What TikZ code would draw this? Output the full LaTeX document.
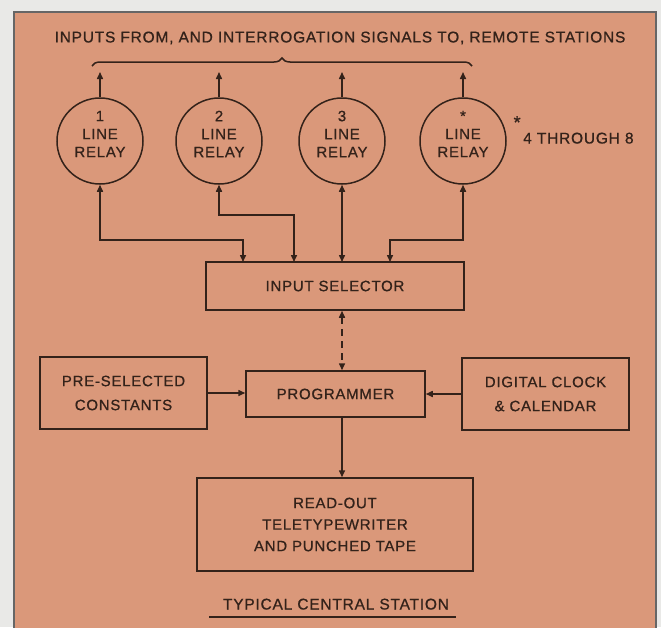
\documentclass[tikz,border=0pt]{standalone}
\usepackage{fontspec}
\setmainfont{Liberation Sans}[LetterSpace=5, FakeBold=0.8]
\usetikzlibrary{arrows.meta, positioning, decorations.pathreplacing, calc}
\definecolor{panel}{HTML}{DA987A}
\definecolor{ink}{HTML}{33221A}
\definecolor{paper}{HTML}{E9E9E7}

\begin{document}
\begin{tikzpicture}[x=1pt, y=-1pt,
  inkline/.style={draw=ink, line width=1.5pt},
  tip/.style={-{Triangle[length=7pt,width=6pt]}},
  twoway/.style={{Triangle[length=7pt,width=6pt]}-{Triangle[length=7pt,width=6pt]}},
  relay/.style={circle, inkline, minimum size=86pt, inner sep=0pt, align=center,
    text=ink, font=\fontsize{15}{18}\selectfont, text depth=14pt},
  unit/.style={rectangle, inkline, inner sep=0pt, align=center, text=ink,
    font=\fontsize{15}{18}\selectfont},
  lettering/.style={text=ink, inner sep=0pt, font=\fontsize{15.5}{18}\selectfont}
]
  \useasboundingbox[fill=paper] (0,0) rectangle (661,627);
  \draw[fill=panel, draw=black!60, line width=1.2pt] (14,12) rectangle (656,640);

  \node[lettering] (title) at (340,38)
    {INPUTS FROM, AND INTERROGATION SIGNALS TO, REMOTE STATIONS};
  \draw[inkline, decorate, decoration={brace, amplitude=8pt}] (92,66) -- (472,66);

  % line relays
  \foreach \n/\x/\lbl in {1/100/1, 2/219/2, 3/342/3, 4/463/*}{
    \node[relay] (relay\n) at (\x,141) {\lbl\\LINE\\RELAY};
    \coordinate (up\n) at (\x,72);
    \draw[inkline, tip] (relay\n.north) -- (up\n);
  }
  \node[lettering, anchor=base west] (note) at (523,143.5)
    {\llap{\raisebox{15pt}{\fontsize{18}{18}\selectfont*}\,}4 THROUGH 8};

  \node[unit, minimum width=258pt, minimum height=48pt] (selector) at (335,286)
    {INPUT SELECTOR};
  \node[unit, minimum width=179pt, minimum height=46pt] (programmer) at (335.5,394)
    {PROGRAMMER};
  \node[unit, minimum width=167pt, minimum height=72pt,
    font=\fontsize{15}{24}\selectfont] (constants) at (123.5,393)
    {PRE-SELECTED\\CONSTANTS};
  \node[unit, minimum width=167pt, minimum height=72pt,
    font=\fontsize{15}{24}\selectfont] (clock) at (545.5,394)
    {DIGITAL CLOCK\\\& CALENDAR};
  \node[unit, minimum width=276pt, minimum height=93pt,
    font=\fontsize{15}{21.5}\selectfont] (readout) at (335,524.5)
    {READ-OUT\\TELETYPEWRITER\\AND PUNCHED TAPE};

  % relays to selector
  \coordinate (in1) at (243,262);
  \coordinate (in2) at (294,262);
  \coordinate (in3) at (342,262);
  \coordinate (in4) at (390,262);
  \draw[inkline, twoway] (relay1.south) -- ++(0,55) -| (in1);
  \draw[inkline, twoway] (relay2.south) -- ++(0,30) -| (in2);
  \draw[inkline, twoway] (relay3.south) -- (in3);
  \draw[inkline, twoway] (relay4.south) -- ++(0,55) -| (in4);

  \draw[inkline, twoway, dash pattern=on 7pt off 5pt]
    (selector.south -| relay3) -- (programmer.north -| relay3);
  \draw[inkline, tip] (constants.east) -- (constants.east -| programmer.west);
  \draw[inkline, tip] (clock.west) -- (clock.west -| programmer.east);
  \draw[inkline, tip] (programmer.south -| relay3) -- (readout.north -| relay3);

  \node[lettering, anchor=base] (caption) at (336,609.5) {TYPICAL CENTRAL STATION};
  \coordinate (ul) at (209,617);
  \coordinate (ur) at (456,617);
  \draw[inkline, line width=1.1pt] (ul) -- (ur);
\end{tikzpicture}
\end{document}
